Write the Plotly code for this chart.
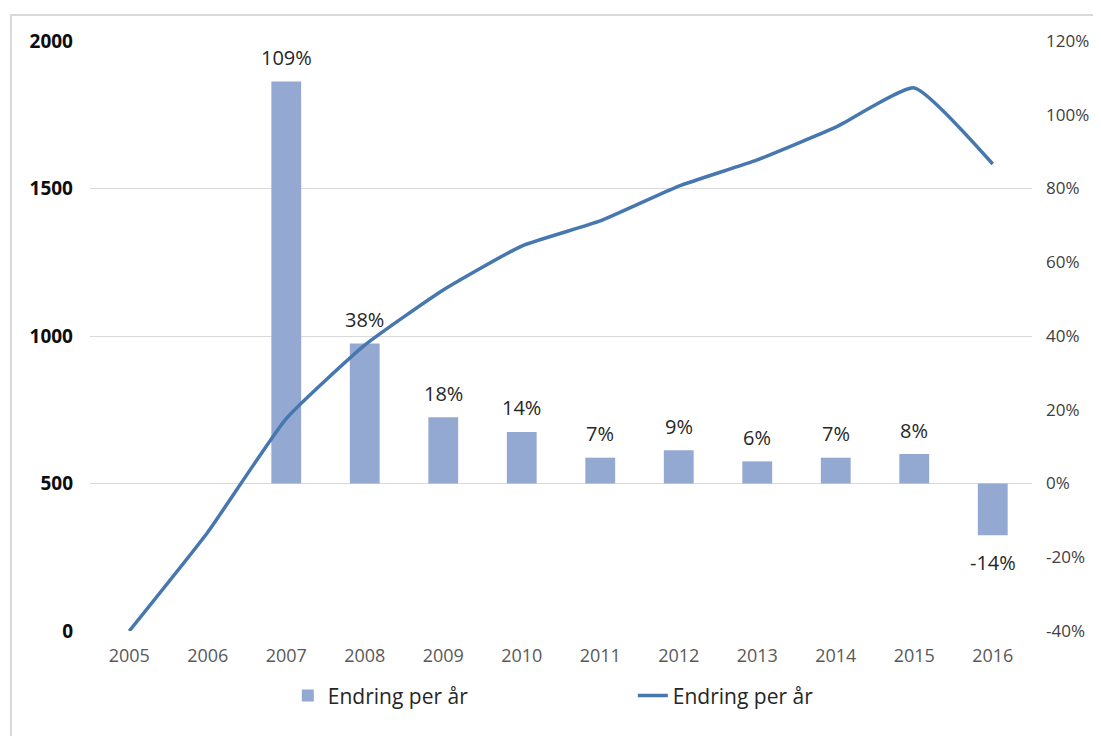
import plotly.graph_objects as go

years = ["2005", "2006", "2007", "2008", "2009", "2010",
         "2011", "2012", "2013", "2014", "2015", "2016"]
change_pct = [None, None, 109, 38, 18, 14, 7, 9, 6, 7, 8, -14]
totals = [0, 335, 720, 969, 1156, 1305, 1390, 1508, 1597, 1708, 1841, 1583]

pct_ticks = [-40, -20, 0, 20, 40, 60, 80, 100, 120]
pct_labels = ["-40%", "-20%", "0%", "20%", "40%", "60%", "80%", "100%", "120%"]
count_ticks = [0, 500, 1000, 1500, 2000]

font_family = "Open Sans, Liberation Sans, sans-serif"

fig = go.Figure()

fig.add_trace(go.Bar(
    x=years,
    y=change_pct,
    name="Endring per år",
    marker=dict(color="#93a9d1", line=dict(width=0)),
    width=0.38,
    yaxis="y",
))

fig.add_trace(go.Scatter(
    x=years,
    y=totals,
    name="Endring per år",
    mode="lines",
    line=dict(color="#4677ae", width=3.5, shape="spline", smoothing=0.45),
    yaxis="y2",
))

# data labels; category axis positions are given by index
annotations = []
for i, v in enumerate(change_pct):
    if v is None:
        continue
    annotations.append(dict(
        x=i, y=v, xref="x", yref="y",
        text=f"{v}%",
        showarrow=False,
        yshift=24 if v >= 0 else -27,
        font=dict(size=20, color="#262626", family=font_family),
    ))

fig.update_layout(
    width=1093,
    height=728,
    paper_bgcolor="white",
    plot_bgcolor="white",
    margin=dict(l=82, r=69, t=33, b=105, autoexpand=False),
    font=dict(family=font_family, color="#404040"),
    xaxis=dict(
        type="category",
        range=[-0.5, len(years) - 0.5],
        automargin=False,
        showgrid=False,
        showline=False,
        ticks="",
        tickfont=dict(size=18, color="#595959"),
        ticklabelstandoff=12,
    ),
    yaxis=dict(
        side="right",
        range=[-40, 120],
        tickvals=pct_ticks,
        ticktext=pct_labels,
        automargin=False,
        showgrid=False,
        zeroline=False,
        showline=False,
        ticks="",
        tickfont=dict(size=17, color="#404040"),
        ticklabelstandoff=13,
    ),
    yaxis2=dict(
        side="left",
        overlaying="y",
        range=[0, 2000],
        tickvals=count_ticks,
        automargin=False,
        showgrid=True,
        gridcolor="#d9d9d9",
        gridwidth=1,
        zeroline=False,
        showline=False,
        ticks="",
        tickfont=dict(size=19, color="#0d0d0d", family="Open Sans, sans-serif", weight="bold"),
        ticklabelstandoff=16,
    ),
    legend=dict(
        orientation="h",
        x=0.21,
        xanchor="left",
        y=-0.075,
        yanchor="top",
        entrywidth=300,
        font=dict(size=21, color="#262626"),
        traceorder="normal",
    ),
    annotations=annotations,
    shapes=[dict(
        type="rect", xref="paper", yref="paper",
        x0=-0.0839, x1=1.2, y0=-0.3, y1=1.044,
        line=dict(color="#d9d9d9", width=2),
        fillcolor="rgba(0,0,0,0)",
        layer="below",
    )],
)

fig.write_html("out.html")
